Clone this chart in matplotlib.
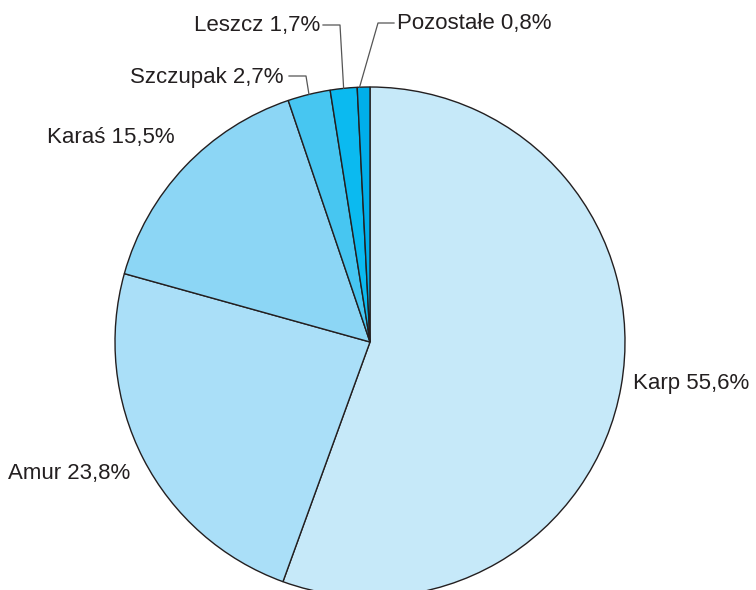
import numpy as np
import matplotlib
matplotlib.use('Agg')
import matplotlib.pyplot as plt
from matplotlib import font_manager

labels = ['Karp', 'Amur', 'Karaś', 'Szczupak', 'Leszcz', 'Pozostałe']
values = [55.6, 23.8, 15.5, 2.7, 1.7, 0.8]
value_text = ['55,6%', '23,8%', '15,5%', '2,7%', '1,7%', '0,8%']
colors = ['#c6e9f9', '#aadff8', '#8cd6f5', '#47c6f1', '#0bbaf0', '#00aeea']

names = {f.name for f in font_manager.fontManager.ttflist}
fam = [n for n in ['Liberation Sans Narrow', 'Liberation Sans'] if n in names][:1]
plt.rcParams['font.family'] = fam + ['DejaVu Sans']

W, H = 756, 590
fig = plt.figure(figsize=(W / 100, H / 100), dpi=100)
ax = fig.add_axes([0, 0, 1, 1])

cx, cy, r = 370, H - 342, 255
wedges, _ = ax.pie(values, colors=colors, startangle=90, counterclock=False,
                   center=(cx, cy), radius=r, frame=True,
                   wedgeprops=dict(edgecolor='#231f20', linewidth=1.0))
ax.set_xlim(0, W)
ax.set_ylim(0, H)
ax.set_aspect('equal')
ax.axis('off')

txt = '#231f20'
fs = 16

def edge_point(w):
    ang = np.deg2rad((w.theta1 + w.theta2) / 2)
    return cx + r * np.cos(ang), cy + r * np.sin(ang)

# labels placed directly next to the big slices
ax.text(633, H - 383, f'{labels[0]} {value_text[0]}', ha='left', va='center', fontsize=fs, color=txt)
ax.text(8, H - 473, f'{labels[1]} {value_text[1]}', ha='left', va='center', fontsize=fs, color=txt)
ax.text(47, H - 138, f'{labels[2]} {value_text[2]}', ha='left', va='center', fontsize=fs, color=txt)

# small slices with leader lines
lead = '#555555'
px, py = edge_point(wedges[3])
ax.plot([289, 306, px], [H - 76, H - 76, py], color=lead, lw=0.9)
ax.text(284, H - 77, f'{labels[3]} {value_text[3]}', ha='right', va='center', fontsize=fs, color=txt)

px, py = edge_point(wedges[4])
ax.plot([323, 340, px], [H - 25, H - 25, py], color=lead, lw=0.9)
ax.text(320, H - 26, f'{labels[4]} {value_text[4]}', ha='right', va='center', fontsize=fs, color=txt)

px, py = edge_point(wedges[5])
ax.plot([394, 378, px - 4], [H - 23, H - 23, py], color=lead, lw=0.9)
ax.text(397, H - 24, f'{labels[5]} {value_text[5]}', ha='left', va='center', fontsize=fs, color=txt)

fig.savefig('out.png', dpi=100, facecolor='white')
